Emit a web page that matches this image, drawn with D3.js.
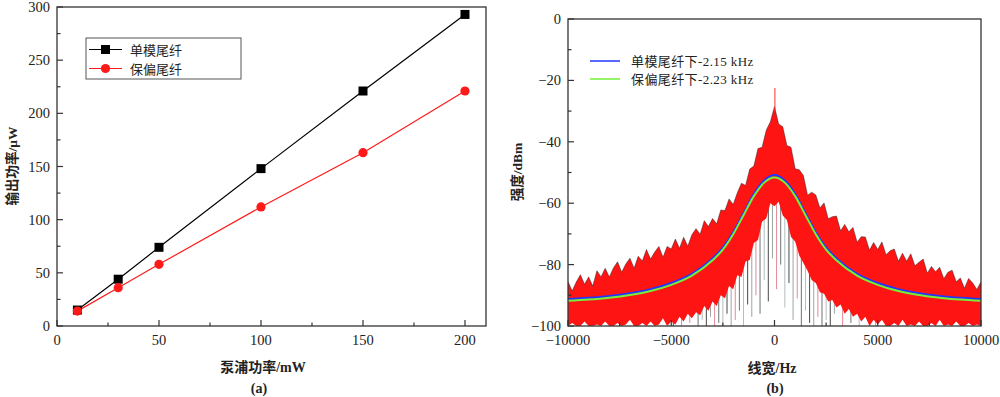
<!DOCTYPE html>
<html>
<head>
<meta charset="utf-8">
<script src="https://cdn.jsdelivr.net/npm/d3@7"></script>
<style>
body{margin:0;background:#fff;}
svg{display:block;}
text{font-family:"Liberation Serif","Noto Sans CJK SC",serif;fill:#222;}
</style>
</head>
<body>
<div id="chart"></div>
<script>
// ---- (a) output power vs pump power
var pumpPower = [10, 30, 50, 100, 150, 200];
var smPower = [15, 44, 74, 148, 221, 293];   // 单模尾纤
var pmPower = [14, 36, 58, 112, 163, 221];   // 保偏尾纤
var xTicksA = [0, 50, 100, 150, 200];
var yTicksA = [0, 50, 100, 150, 200, 250, 300];

// ---- (b) beat spectrum, 200 Hz grid from -10000 to 10000
var specFreq = d3.range(-10000, 10001, 200);
var redTop = [-85.5,-88.6,-85.7,-83.3,-86.4,-84.0,-87.0,-82.0,-84.0,-81.2,
  -84.0,-81.1,-79.1,-82.5,-79.8,-77.9,-81.2,-77.3,-78.8,-75.1,
  -78.2,-75.9,-74.1,-77.6,-74.1,-74.9,-71.7,-74.7,-71.1,-74.0,
  -70.3,-68.3,-70.1,-65.7,-67.6,-65.0,-66.7,-62.2,-62.4,-58.6,
  -60.4,-56.6,-53.5,-54.2,-48.9,-47.9,-42.2,-41.8,-36.2,-33.5,
  -28.5,
  -34.2,-35.1,-41.2,-41.8,-48.8,-49.1,-51.0,-57.4,-56.4,-57.3,
  -61.6,-59.9,-65.1,-64.4,-64.2,-69.0,-66.9,-69.3,-67.9,-72.7,
  -70.9,-71.0,-75.3,-72.8,-75.1,-72.6,-76.8,-75.5,-74.9,-78.9,
  -76.3,-78.9,-76.5,-80.4,-79.2,-78.2,-82.8,-80.6,-82.3,-80.9,
  -84.6,-82.5,-81.8,-85.6,-84.4,-87.7,-84.5,-86.0,-88.1,-85.6];
var redBot = [-100,-99,-100,-100,-98.5,-100,-100,-99.5,-100,-98.5,
  -100,-100,-99,-100,-99.5,-98,-100,-100,-99,-100,
  -98.5,-100,-99.5,-97.5,-100,-98.5,-99.5,-97,-98.5,-96,
  -97.5,-95.5,-96.5,-93.5,-95,-92,-93.5,-90,-91,-87,
  -88,-83.5,-84,-79,-78.5,-73,-72,-66,-65,-60,
  -61,
  -59.5,-64,-65.5,-71,-72.5,-77,-79.5,-82,-85,-86,
  -89,-89.5,-92,-91.5,-94,-93,-96,-94.5,-97,-96,
  -98.5,-97,-100,-98,-99.5,-98,-100,-100,-99,-100,
  -98,-100,-99.5,-100,-98.5,-100,-100,-99,-100,-98,
  -100,-99.5,-100,-98.5,-100,-100,-99,-100,-99.5,-100];
// thin downward noise lines below the red band
var spikeFreq = [-4900,-4500,-4100,-3700,-3500,-3300,-3100,-2900,-2700,-2500,-2300,-2100,
  -1900,-1700,-1500,-1300,-1100,-900,-700,-500,-300,-100,100,300,500,700,900,1100,
  1300,1500,1700,1900,2100,2300,2500,2700,2900,3300,3700,4100,4500,4900];
var spikeLow = [-100,-100,-99,-100,-98,-100,-97,-100,-99,-100,-96,-100,
  -98,-95,-100,-93,-97,-90,-96,-85,-92,-78,-88,-80,-94,-86,-98,-91,
  -100,-95,-99,-100,-97,-100,-98,-100,-96,-100,-99,-100,-98,-100];
var peakSpike = -22.5;
// Lorentz fits
var fitFreq = [-10000,-9000,-8000,-7000,-6000,-5000,-4000,-3000,-2500,-2000,-1500,-1000,-500,0,
  500,1000,1500,2000,2500,3000,4000,5000,6000,7000,8000,9000,10000];
var fitSM = [-91.2,-90.8,-90.2,-89.3,-88.0,-86.0,-83.0,-78.0,-74.5,-69.5,-63.3,-57.0,-52.6,-50.8,
  -52.6,-57.0,-63.3,-69.5,-74.5,-78.0,-83.0,-86.0,-88.0,-89.3,-90.2,-90.8,-91.2];
var fitPM = [-91.8,-91.4,-90.8,-89.9,-88.6,-86.6,-83.6,-78.6,-75.1,-70.1,-63.9,-57.7,-53.3,-51.6,
  -53.3,-57.7,-63.9,-70.1,-75.1,-78.6,-83.6,-86.6,-88.6,-89.9,-90.8,-91.4,-91.8];
var xTicksB = [-10000, -5000, 0, 5000, 10000];
var yTicksB = [-100, -80, -60, -40, -20, 0];

var svg = d3.select("#chart").append("svg").attr("width", 1000).attr("height", 397);

var axisCol = "#333";

function frame(g, x0, x1, y0, y1){
  g.append("rect").attr("x", x0).attr("y", y0).attr("width", x1-x0).attr("height", y1-y0)
    .attr("fill", "none").attr("stroke", axisCol).attr("stroke-width", 1.3);
}
function inTicks(g, sx, sy, xMaj, xMin, yMaj, yMin){
  var y0 = sy.range()[0], x0 = sx.range()[0];
  xMaj.forEach(v=>g.append("line").attr("x1", sx(v)).attr("x2", sx(v)).attr("y1", y0).attr("y2", y0-6).attr("stroke", axisCol).attr("stroke-width", 1.2));
  xMin.forEach(v=>g.append("line").attr("x1", sx(v)).attr("x2", sx(v)).attr("y1", y0).attr("y2", y0-3.5).attr("stroke", axisCol).attr("stroke-width", 1.2));
  yMaj.forEach(v=>g.append("line").attr("x1", x0).attr("x2", x0+6).attr("y1", sy(v)).attr("y2", sy(v)).attr("stroke", axisCol).attr("stroke-width", 1.2));
  yMin.forEach(v=>g.append("line").attr("x1", x0).attr("x2", x0+3.5).attr("y1", sy(v)).attr("y2", sy(v)).attr("stroke", axisCol).attr("stroke-width", 1.2));
}
function fmt(v){ return v < 0 ? "\u2212" + Math.abs(v) : String(v); }

// ================= (a)
var xA = d3.scaleLinear().domain([0, 210.3]).range([57, 486]);
var yA = d3.scaleLinear().domain([0, 300]).range([326, 7]);
var gA = svg.append("g");

frame(gA, 57, 486, 7, 326);
inTicks(gA, xA, yA, xTicksA, [25, 75, 125, 175], yTicksA, [25, 75, 125, 175, 225, 275]);

gA.selectAll(".xl").data(xTicksA).enter().append("text")
  .attr("x", d=>xA(d)).attr("y", 345).attr("text-anchor", "middle")
  .style("font-size", "14.5px").text(fmt);
gA.selectAll(".yl").data(yTicksA).enter().append("text")
  .attr("x", 50).attr("y", d=>yA(d)+5).attr("text-anchor", "end")
  .style("font-size", "14.5px").text(fmt);

var lineA = d3.line().x((d,i)=>xA(pumpPower[i])).y(d=>yA(d));
gA.append("path").attr("d", lineA(smPower)).attr("fill", "none").attr("stroke", "#000").attr("stroke-width", 1.2);
gA.append("path").attr("d", lineA(pmPower)).attr("fill", "none").attr("stroke", "#ff1a1a").attr("stroke-width", 1.2);
gA.selectAll(".sq").data(smPower).enter().append("rect")
  .attr("x", (d,i)=>xA(pumpPower[i])-4.5).attr("y", d=>yA(d)-4.5)
  .attr("width", 9).attr("height", 9).attr("fill", "#000");
gA.selectAll(".ci").data(pmPower).enter().append("circle")
  .attr("cx", (d,i)=>xA(pumpPower[i])).attr("cy", d=>yA(d)).attr("r", 4.6).attr("fill", "#ff1a1a");

// legend (a)
gA.append("rect").attr("x", 86).attr("y", 38).attr("width", 155).attr("height", 41)
  .attr("fill", "#fff").attr("stroke", "#555").attr("stroke-width", 1);
gA.append("line").attr("x1", 89).attr("x2", 122).attr("y1", 49.5).attr("y2", 49.5).attr("stroke", "#000").attr("stroke-width", 1.2);
gA.append("rect").attr("x", 101).attr("y", 45).attr("width", 9).attr("height", 9).attr("fill", "#000");
gA.append("line").attr("x1", 89).attr("x2", 122).attr("y1", 68.5).attr("y2", 68.5).attr("stroke", "#ff1a1a").attr("stroke-width", 1.2);
gA.append("circle").attr("cx", 105.5).attr("cy", 68.5).attr("r", 4.6).attr("fill", "#ff1a1a");
gA.append("text").attr("x", 130).attr("y", 54.5).style("font-size", "13px").text("单模尾纤");
gA.append("text").attr("x", 130).attr("y", 73.5).style("font-size", "13px").text("保偏尾纤");

gA.append("text").attr("transform", "translate(17,166) rotate(-90)").attr("text-anchor", "middle")
  .style("font-size", "13.5px").style("font-weight", "bold").text("输出功率/μW");
gA.append("text").attr("x", 263).attr("y", 372).attr("text-anchor", "middle")
  .style("font-size", "14px").style("font-weight", "bold").text("泵浦功率/mW");
gA.append("text").attr("x", 259).attr("y", 393).attr("text-anchor", "middle")
  .style("font-size", "14px").style("font-weight", "bold").text("(a)");

// ================= (b)
var xB = d3.scaleLinear().domain([-10000, 10000]).range([568, 981]);
var yB = d3.scaleLinear().domain([-100, 0]).range([326, 19]);
var gB = svg.append("g");

svg.append("defs").append("clipPath").attr("id", "clipB")
  .append("rect").attr("x", 568).attr("y", 19).attr("width", 413).attr("height", 307);
var plotB = gB.append("g").attr("clip-path", "url(#clipB)");

var fitAt = d3.scaleLinear().domain(fitFreq).range(fitSM);
var spikeCols = ["#333", "#8c9c9c", "#e07a8a", "#5a6464", "#a9b5b5"];
plotB.selectAll(".sp").data(spikeLow).enter().append("line")
  .attr("x1", (d,i)=>xB(spikeFreq[i])).attr("x2", (d,i)=>xB(spikeFreq[i]))
  .attr("y1", (d,i)=>yB(fitAt(spikeFreq[i]))).attr("y2", d=>yB(d))
  .attr("stroke", (d,i)=>spikeCols[i % spikeCols.length]).attr("stroke-width", 0.9);

var areaB = d3.area().x((d,i)=>xB(specFreq[i])).y0((d,i)=>yB(redBot[i])).y1(d=>yB(d));
plotB.append("path").attr("d", areaB(redTop)).attr("fill", "#ff1414");
var topLine = d3.line().x((d,i)=>xB(specFreq[i])).y(d=>yB(d));
plotB.append("path").attr("d", topLine(redTop)).attr("fill", "none")
  .attr("stroke", "#1a1a1a").attr("stroke-opacity", 0.55).attr("stroke-width", 0.8);
plotB.append("line").attr("x1", xB(20)).attr("x2", xB(20)).attr("y1", yB(-30)).attr("y2", yB(peakSpike))
  .attr("stroke", "#ff3030").attr("stroke-width", 1);

var fitLine = d3.line().x((d,i)=>xB(fitFreq[i])).y(d=>yB(d)).curve(d3.curveMonotoneX);
plotB.append("path").attr("d", fitLine(fitSM)).attr("fill", "none").attr("stroke", "#2236ff").attr("stroke-width", 2);
plotB.append("path").attr("d", fitLine(fitPM)).attr("fill", "none").attr("stroke", "#72f03a").attr("stroke-width", 2);

frame(gB, 568, 981, 19, 326);
inTicks(gB, xB, yB, xTicksB, [-7500, -2500, 2500, 7500], yTicksB, [-90, -70, -50, -30, -10]);

gB.selectAll(".xl").data(xTicksB).enter().append("text")
  .attr("x", d=>xB(d)).attr("y", 345).attr("text-anchor", "middle")
  .style("font-size", "14.5px").text(fmt);
gB.selectAll(".yl").data(yTicksB).enter().append("text")
  .attr("x", 561).attr("y", d=>yB(d)+5).attr("text-anchor", "end")
  .style("font-size", "14.5px").text(fmt);

// legend (b)
gB.append("line").attr("x1", 590).attr("x2", 620).attr("y1", 61).attr("y2", 61).attr("stroke", "#2236ff").attr("stroke-width", 1.5);
gB.append("line").attr("x1", 590).attr("x2", 620).attr("y1", 79).attr("y2", 79).attr("stroke", "#72f03a").attr("stroke-width", 1.5);
gB.append("text").attr("x", 631).attr("y", 66).style("font-size", "13px").style("letter-spacing", "0.4px").text("单模尾纤下-2.15 kHz");
gB.append("text").attr("x", 631).attr("y", 84).style("font-size", "13px").style("letter-spacing", "0.4px").text("保偏尾纤下-2.23 kHz");

gB.append("text").attr("transform", "translate(522,172) rotate(-90)").attr("text-anchor", "middle")
  .style("font-size", "13.5px").style("font-weight", "bold").text("强度/dBm");
gB.append("text").attr("x", 772).attr("y", 373).attr("text-anchor", "middle")
  .style("font-size", "14px").style("font-weight", "bold").text("线宽/Hz");
gB.append("text").attr("x", 775).attr("y", 393).attr("text-anchor", "middle")
  .style("font-size", "14px").style("font-weight", "bold").text("(b)");
</script>
</body>
</html>
